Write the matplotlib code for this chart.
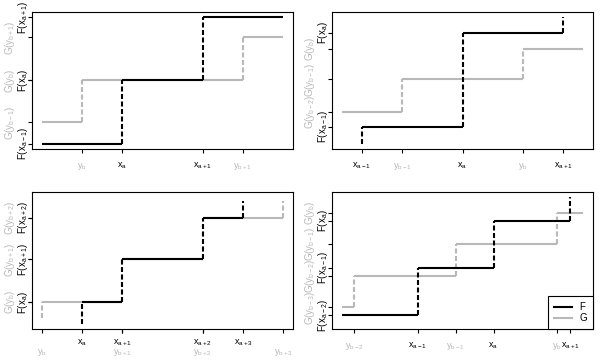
import matplotlib
matplotlib.use('Agg')
import matplotlib.pyplot as plt
from matplotlib.lines import Line2D

plt.rcParams['font.family'] = 'Liberation Sans'
plt.rcParams['mathtext.fontset'] = 'custom'
plt.rcParams['mathtext.rm'] = 'Liberation Sans'
plt.rcParams['mathtext.it'] = 'Liberation Sans'
plt.rcParams['mathtext.bf'] = 'Liberation Sans:bold'
plt.rcParams['lines.scale_dashes'] = False

GRAY = '#b8b8b8'

# step functions: edges (start, jumps..., end) and levels between edges
p1_fx = [0, 2, 4, 6]
p1_fy = [0, 0.5, 1.0]
p1_gx = [0, 1, 5, 6]
p1_gy = [0.17, 0.5, 0.84]

p2_fx = [0.5, 0.5, 3.0, 5.5, 5.5]
p2_fy = [0, 0.135, 0.877, 1.0]
p2_gx = [0, 1.5, 4.5, 6]
p2_gy = [0.255, 0.508, 0.75]

p3_fx = [1, 1, 2, 4, 5, 5]
p3_fy = [0, 0.172, 0.508, 0.836, 0.97]
p3_gx = [0, 0, 2, 4, 6, 6]
p3_gy = [0.047, 0.172, 0.508, 0.836, 0.97]

p4_fx = [0, 1.89, 3.77, 5.68, 5.68]
p4_fy = [0.07, 0.443, 0.815, 1.0]
p4_gx = [0, 0.31, 2.83, 5.35, 6]
p4_gy = [0.13, 0.377, 0.63, 0.877]

# ticked values
p1_fxt, p1_gxt = [2, 4], [1, 5]
p1_fyt, p1_gyt = [0, 0.5, 1.0], [0.17, 0.5, 0.84]
p2_fxt, p2_gxt = [0.5, 3.0, 5.5], [1.5, 4.5]
p2_fyt, p2_gyt = [0.135, 0.877], [0.255, 0.508, 0.75]
p3_fxt, p3_gxt = [1, 2, 4, 5], [0, 2, 4, 6]
p3_fyt, p3_gyt = [0.172, 0.508, 0.836], [0.172, 0.508, 0.836]
p4_fxt, p4_gxt = [1.89, 3.77, 5.68], [0.31, 2.83, 5.35]
p4_fyt, p4_gyt = [0.07, 0.443, 0.815], [0.13, 0.377, 0.63, 0.877]

# tick labels
p1_fxl = ['x_{a}', 'x_{a+1}']
p1_gxl = ['y_{b}', 'y_{b+1}']
p1_fyl = ['F(x_{a-1})', 'F(x_{a})', 'F(x_{a+1})']
p1_gyl = ['G(y_{b-1})', 'G(y_{b})', 'G(y_{b+1})']

p2_fxl = ['x_{a-1}', 'x_{a}', 'x_{a+1}']
p2_gxl = ['y_{b-1}', 'y_{b}']
p2_fyl = ['F(x_{a-1})', 'F(x_{a})']
p2_gyl = ['G(y_{b-2})', 'G(y_{b-1})', 'G(y_{b})']

p3_fxl = ['x_{a}', 'x_{a+1}', 'x_{a+2}', 'x_{a+3}']
p3_gxl = ['y_{b}', 'y_{b+1}', 'y_{b+2}', 'y_{b+3}']
p3_fyl = ['F(x_{a})', 'F(x_{a+1})', 'F(x_{a+2})']
p3_gyl = ['G(y_{b})', 'G(y_{b+1})', 'G(y_{b+2})']

p4_fxl = ['x_{a-1}', 'x_{a}', 'x_{a+1}']
p4_gxl = ['y_{b-2}', 'y_{b-1}', 'y_{b}']
p4_fyl = ['F(x_{a-2})', 'F(x_{a-1})', 'F(x_{a})']
p4_gyl = ['G(y_{b-3})', 'G(y_{b-2})', 'G(y_{b-1})', 'G(y_{b})']


def mt(s):
    return r'$\mathrm{' + s + '}$'


def draw_step(ax, xs, ys, color):
    for i, lev in enumerate(ys):
        if xs[i + 1] > xs[i]:
            ax.plot([xs[i], xs[i + 1]], [lev, lev], color=color, lw=1.5,
                    solid_capstyle='butt')
        if i < len(ys) - 1:
            ax.plot([xs[i + 1], xs[i + 1]], [lev, ys[i + 1]], color=color,
                    lw=1.5, dashes=(3.6, 1.8), dash_capstyle='butt')


def panel(ax, fx, fy, gx, gy, ticks, labels, two_rows=False):
    fxt, gxt, fyt, gyt = ticks
    fxl, gxl, fyl, gyl = labels
    draw_step(ax, gx, gy, GRAY)
    draw_step(ax, fx, fy, 'black')
    ax.set_xlim(-0.24, 6.24)
    ax.set_ylim(-0.04, 1.04)
    ax.xaxis.remove_overlapping_locs = False
    ax.yaxis.remove_overlapping_locs = False
    ax.set_xticks(fxt, [mt(s) for s in fxl])
    ax.set_xticks(gxt, [mt(s) for s in gxl], minor=True)
    ax.set_yticks(fyt, [mt(s) for s in fyl])
    ax.set_yticks(gyt, [mt(s) for s in gyl], minor=True)
    ax.tick_params(which='both', length=3, width=0.8, direction='out',
                   color='black')
    ax.tick_params(axis='x', which='both', labelsize=6.5)
    ax.tick_params(axis='y', which='both', labelsize=7)
    ax.tick_params(axis='x', which='major', pad=3 if two_rows else 5.5)
    ax.tick_params(axis='x', which='minor', labelcolor=GRAY,
                   pad=10 if two_rows else 5.5)
    ax.tick_params(axis='y', which='both', labelrotation=90)
    ax.tick_params(axis='y', which='major', pad=-1.5)
    ax.tick_params(axis='y', which='minor', labelcolor=GRAY, pad=8)
    for lab in ax.get_yticklabels(which='both'):
        lab.set_va('center')
    for sp in ax.spines.values():
        sp.set_linewidth(0.8)


fig = plt.figure(figsize=(6.03, 3.6), dpi=100)
ax1 = fig.add_axes([0.05307, 0.58611, 0.43284, 0.38056])
ax2 = fig.add_axes([0.55058, 0.58611, 0.43284, 0.38056])
ax3 = fig.add_axes([0.05307, 0.08611, 0.43284, 0.38056])
ax4 = fig.add_axes([0.55058, 0.08611, 0.43284, 0.38056])

panel(ax1, p1_fx, p1_fy, p1_gx, p1_gy,
      (p1_fxt, p1_gxt, p1_fyt, p1_gyt), (p1_fxl, p1_gxl, p1_fyl, p1_gyl))
panel(ax2, p2_fx, p2_fy, p2_gx, p2_gy,
      (p2_fxt, p2_gxt, p2_fyt, p2_gyt), (p2_fxl, p2_gxl, p2_fyl, p2_gyl))
panel(ax3, p3_fx, p3_fy, p3_gx, p3_gy,
      (p3_fxt, p3_gxt, p3_fyt, p3_gyt), (p3_fxl, p3_gxl, p3_fyl, p3_gyl),
      two_rows=True)
panel(ax4, p4_fx, p4_fy, p4_gx, p4_gy,
      (p4_fxt, p4_gxt, p4_fyt, p4_gyt), (p4_fxl, p4_gxl, p4_fyl, p4_gyl))

handles = [Line2D([], [], color='black', lw=1.5),
           Line2D([], [], color=GRAY, lw=1.5)]
leg = ax4.legend(handles, ['F', 'G'], loc='lower right', borderaxespad=0,
                 fontsize=7, fancybox=False, framealpha=1, edgecolor='black',
                 handlelength=1.8, handletextpad=0.8, labelspacing=0.1,
                 borderpad=0.6)
leg.get_frame().set_linewidth(0.8)

fig.savefig('out.png', dpi=100)
